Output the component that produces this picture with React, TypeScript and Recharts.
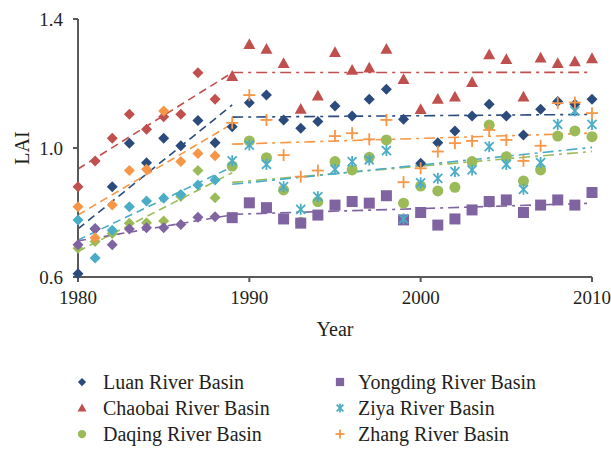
import { ScatterChart, Scatter, XAxis, YAxis, ReferenceLine } from 'recharts';

const YEARS = [
  1980, 1981, 1982, 1983, 1984, 1985, 1986, 1987, 1988, 1989, 1990,
  1991, 1992, 1993, 1994, 1995, 1996, 1997, 1998, 1999, 2000,
  2001, 2002, 2003, 2004, 2005, 2006, 2007, 2008, 2009, 2010,
];

const luan = [
  0.61, 0.75, 0.88, 1.015, 0.954, 1.03, 1.007, 1.085, 1.016, 1.066, 1.14,
  1.164, 1.087, 1.061, 1.082, 1.13, 1.099, 1.151, 1.182, 1.089, 0.953,
  1.016, 1.053, 1.099, 1.136, 1.099, 1.04, 1.12, 1.144, 1.136, 1.151,
];
const chaobai = [
  0.88, 0.96, 1.03, 1.105, 1.058, 1.097, 1.105, 1.233, 1.151, 1.223, 1.322,
  1.307, 1.263, 1.121, 1.162, 1.297, 1.242, 1.249, 1.307, 1.213, 1.12,
  1.152, 1.159, 1.204, 1.29, 1.275, 1.159, 1.28, 1.263, 1.268, 1.278,
];
const daqing = [
  0.689, 0.71, 0.735, 0.767, 0.768, 0.774, 0.85, 0.93, 0.846, 0.944, 1.022,
  0.97, 0.87, 0.77, 0.834, 0.958, 0.932, 0.971, 1.025, 0.829, 0.882,
  0.867, 0.878, 0.958, 1.071, 0.973, 0.898, 0.932, 1.037, 1.053, 1.035,
];
const yongding = [
  0.7, 0.75, 0.7, 0.749, 0.753, 0.753, 0.763, 0.785, 0.787, 0.784, 0.83,
  0.815, 0.78, 0.767, 0.792, 0.823, 0.834, 0.829, 0.852, 0.777, 0.8,
  0.761, 0.78, 0.808, 0.834, 0.839, 0.8, 0.823, 0.839, 0.823, 0.862,
];
const ziya = [
  0.777, 0.659, 0.745, 0.818, 0.836, 0.844, 0.856, 0.885, 0.901, 0.96, 1.009,
  0.949, 0.88, 0.81, 0.849, 0.934, 0.958, 0.963, 0.992, 0.78, 0.892,
  0.906, 0.927, 0.932, 1.004, 0.949, 0.872, 0.955, 1.073, 1.115, 1.073,
];
const zhang = [
  0.818, 0.722, 0.823, 0.93, 0.934, 1.115, 0.958, 0.983, 0.976, 1.078, 1.164,
  1.087, 0.978, 0.911, 0.93, 1.037, 1.046, 1.027, 1.087, 0.894, 0.937,
  0.989, 1.015, 1.022, 1.056, 1.025, 0.96, 1.007, 1.139, 1.141, 1.108,
];

const X_TICKS = [1980, 1990, 2000, 2010];
const Y_TICKS = [0.6, 1.0, 1.4];
const BREAK_YEAR = 1989;

type Marker = 'diamond' | 'triangle' | 'circle' | 'square' | 'star' | 'plus';

const SERIES: { name: string; values: number[]; color: string; marker: Marker }[] = [
  { name: 'Luan River Basin', values: luan, color: '#2b4b7d', marker: 'diamond' },
  { name: 'Chaobai River Basin', values: chaobai, color: '#c0504d', marker: 'triangle' },
  { name: 'Daqing River Basin', values: daqing, color: '#9bbb59', marker: 'circle' },
  { name: 'Yongding River Basin', values: yongding, color: '#8064a2', marker: 'square' },
  { name: 'Ziya River Basin', values: ziya, color: '#4bacc6', marker: 'star' },
  { name: 'Zhang River Basin', values: zhang, color: '#f79646', marker: 'plus' },
];

function drawMarker(kind: Marker, cx: number, cy: number, color: string, s = 1) {
  switch (kind) {
    case 'diamond': {
      const r = 5.5 * s;
      return <polygon points={`${cx},${cy - r} ${cx + r},${cy} ${cx},${cy + r} ${cx - r},${cy}`} fill={color} />;
    }
    case 'triangle': {
      const r = 6 * s;
      return <polygon points={`${cx},${cy - r} ${cx + r},${cy + r * 0.8} ${cx - r},${cy + r * 0.8}`} fill={color} />;
    }
    case 'circle':
      return <circle cx={cx} cy={cy} r={5.5 * s} fill={color} />;
    case 'square': {
      const r = 5.5 * s;
      return <rect x={cx - r} y={cy - r} width={2 * r} height={2 * r} fill={color} />;
    }
    case 'star': {
      const r = 4.5 * s;
      return (
        <g stroke={color} strokeWidth={1.8}>
          <line x1={cx - r} y1={cy - r} x2={cx + r} y2={cy + r} />
          <line x1={cx - r} y1={cy + r} x2={cx + r} y2={cy - r} />
          <line x1={cx} y1={cy - r - 1} x2={cx} y2={cy + r + 1} />
        </g>
      );
    }
    case 'plus': {
      const r = 6 * s;
      return (
        <g stroke={color} strokeWidth={1.8}>
          <line x1={cx - r} y1={cy} x2={cx + r} y2={cy} />
          <line x1={cx} y1={cy - r} x2={cx} y2={cy + r} />
        </g>
      );
    }
  }
}

// least squares line through the years in [from, to]
function fit(values: number[], from: number, to: number) {
  const xs: number[] = [];
  const ys: number[] = [];
  YEARS.forEach((yr, i) => {
    if (yr >= from && yr <= to) {
      xs.push(yr);
      ys.push(values[i]);
    }
  });
  const n = xs.length;
  const mx = xs.reduce((a, b) => a + b, 0) / n;
  const my = ys.reduce((a, b) => a + b, 0) / n;
  let sxy = 0;
  let sxx = 0;
  for (let i = 0; i < n; i++) {
    sxy += (xs[i] - mx) * (ys[i] - my);
    sxx += (xs[i] - mx) ** 2;
  }
  const slope = sxy / sxx;
  return [
    { x: from, y: my + slope * (from - mx) },
    { x: to, y: my + slope * (to - mx) },
  ];
}

const FONT = '"Liberation Serif", "DejaVu Serif", serif';
const TEXT = '#231f20';

export default function App() {
  return (
    <div style={{ position: 'relative', width: 611, height: 449, fontFamily: FONT, color: TEXT }}>
      <style>{'body{margin:0}'}</style>
      <ScatterChart width={611} height={449} margin={{ top: 19, right: 19, bottom: 112, left: 0 }}>
        <XAxis
          type="number"
          dataKey="x"
          domain={[1980, 2010]}
          ticks={X_TICKS}
          height={60}
          tickSize={5}
          tickMargin={9}
          axisLine={{ stroke: '#595959', strokeWidth: 2 }}
          tickLine={{ stroke: '#595959', strokeWidth: 2 }}
          tick={{ fill: TEXT, fontSize: 19, fontFamily: FONT }}
          label={{ value: 'Year', position: 'insideBottom', offset: 1, fill: TEXT, fontSize: 20, fontFamily: FONT }}
        />
        <YAxis
          type="number"
          dataKey="y"
          domain={[0.6, 1.4]}
          ticks={Y_TICKS}
          width={78}
          tickSize={5}
          tickMargin={10}
          tickFormatter={(v: number) => v.toFixed(1)}
          axisLine={{ stroke: '#595959', strokeWidth: 2 }}
          tickLine={{ stroke: '#595959', strokeWidth: 2 }}
          tick={{ fill: TEXT, fontSize: 19, fontFamily: FONT }}
          label={{
            value: 'LAI',
            angle: -90,
            position: 'insideLeft',
            offset: 22,
            fill: TEXT,
            fontSize: 20,
            fontFamily: FONT,
            style: { textAnchor: 'middle' },
          }}
        />
        {SERIES.map((s) => (
          <ReferenceLine
            key={s.name + '-pre'}
            segment={fit(s.values, 1980, BREAK_YEAR)}
            stroke={s.color}
            strokeWidth={1.6}
            strokeDasharray="8 5"
          />
        ))}
        {SERIES.map((s) => (
          <ReferenceLine
            key={s.name + '-post'}
            segment={fit(s.values, BREAK_YEAR, 2010)}
            stroke={s.color}
            strokeWidth={1.6}
            strokeDasharray="11 5 3 5"
          />
        ))}
        {SERIES.map((s) => (
          <Scatter
            key={s.name}
            name={s.name}
            data={YEARS.map((yr, i) => ({ x: yr, y: s.values[i] }))}
            isAnimationActive={false}
            shape={(p: any) =>
              drawMarker(p.payload.x < BREAK_YEAR ? 'diamond' : s.marker, p.cx, p.cy, s.color)
            }
          />
        ))}
      </ScatterChart>
      <div style={{ position: 'absolute', left: 0, top: 369, width: 611, fontSize: 20 }}>
        {SERIES.map((s, i) => {
          const col = i < 3 ? 0 : 1;
          const row = i % 3;
          return (
            <div
              key={s.name}
              style={{
                position: 'absolute',
                left: col === 0 ? 74 : 332,
                top: row * 26,
                height: 26,
                display: 'flex',
                alignItems: 'center',
                whiteSpace: 'nowrap',
              }}
            >
              <svg width={18} height={18} style={{ marginRight: col === 0 ? 11 : 8 }}>
                {drawMarker(s.marker, 8, 9, s.color, 0.75)}
              </svg>
              {s.name}
            </div>
          );
        })}
      </div>
    </div>
  );
}
